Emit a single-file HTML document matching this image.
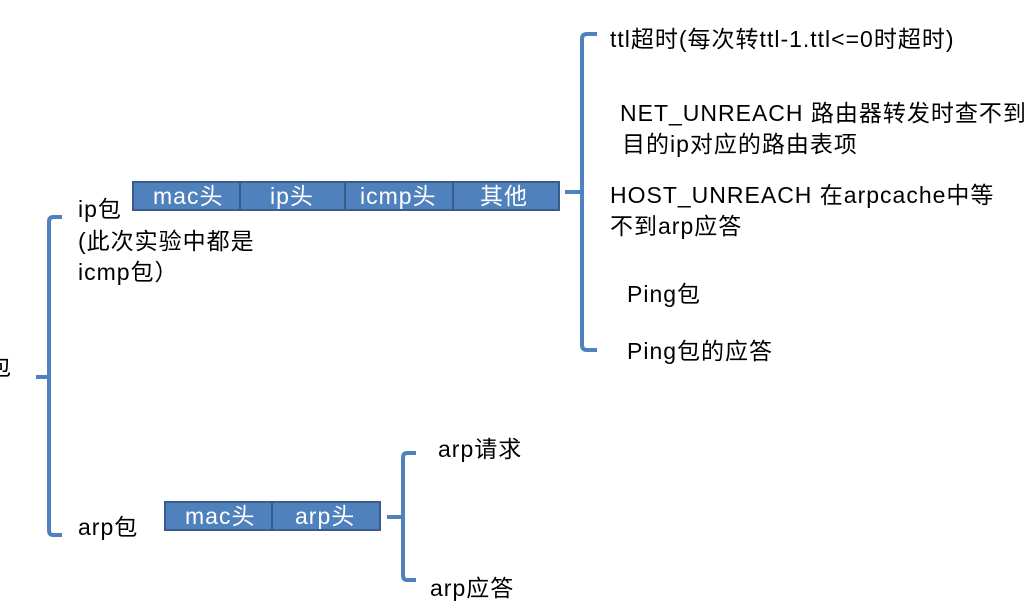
<!DOCTYPE html>
<html><head><meta charset="utf-8"><style>
body{margin:0;width:1025px;height:614px;background:#fff;position:relative;overflow:hidden;font-family:"Liberation Sans","Noto Sans CJK SC",sans-serif;font-size:23px;letter-spacing:1px;color:#000}
.t{position:absolute;white-space:nowrap;line-height:30px}
.w{color:#fff}
</style></head><body>
<svg width="1025" height="614" style="position:absolute;left:0;top:0">
<g fill="none" stroke="#4f81bd" stroke-width="4">
<path d="M62 217 H53 Q49 217 49 222 V530 Q49 535 53 535 H62 M49 377 H36"/>
<path d="M597 34 H587 Q582 34 582 39 V345 Q582 350 587 350 H597 M582 192 H565"/>
<path d="M416 453 H407 Q403 453 403 458 V575 Q403 580 407 580 H416 M403 517 H387"/>
</g>
<g fill="#4f81bd" stroke="#385d8a" stroke-width="2">
<rect x="133" y="182" width="426" height="28"/>
<line x1="240" y1="182" x2="240" y2="210"/>
<line x1="345" y1="182" x2="345" y2="210"/>
<line x1="453" y1="182" x2="453" y2="210"/>
<rect x="165" y="502" width="215" height="28"/>
<line x1="272" y1="502" x2="272" y2="530"/>
</g>
</svg>
<div class="t w" style="left:153px;top:181px">mac头</div>
<div class="t w" style="left:270px;top:181px">ip头</div>
<div class="t w" style="left:360px;top:181px">icmp头</div>
<div class="t w" style="left:480px;top:181px">其他</div>
<div class="t w" style="left:185px;top:501px">mac头</div>
<div class="t w" style="left:295px;top:501px">arp头</div>
<div class="t" style="left:-12px;top:352px">包</div>
<div class="t" style="left:78px;top:194px">ip包</div>
<div class="t" style="left:78px;top:226px">(此次实验中都是</div>
<div class="t" style="left:78px;top:257px">icmp包）</div>
<div class="t" style="left:78px;top:512px">arp包</div>
<div class="t" style="left:610px;top:24px">ttl超时(每次转ttl-1.ttl&lt;=0时超时)</div>
<div class="t" style="left:620px;top:98px">NET_UNREACH 路由器转发时查不到</div>
<div class="t" style="left:622px;top:129px">目的ip对应的路由表项</div>
<div class="t" style="left:610px;top:180px">HOST_UNREACH 在arpcache中等</div>
<div class="t" style="left:610px;top:211px">不到arp应答</div>
<div class="t" style="left:627px;top:279px">Ping包</div>
<div class="t" style="left:627px;top:336px">Ping包的应答</div>
<div class="t" style="left:438px;top:434px">arp请求</div>
<div class="t" style="left:430px;top:573px">arp应答</div>
</body></html>
